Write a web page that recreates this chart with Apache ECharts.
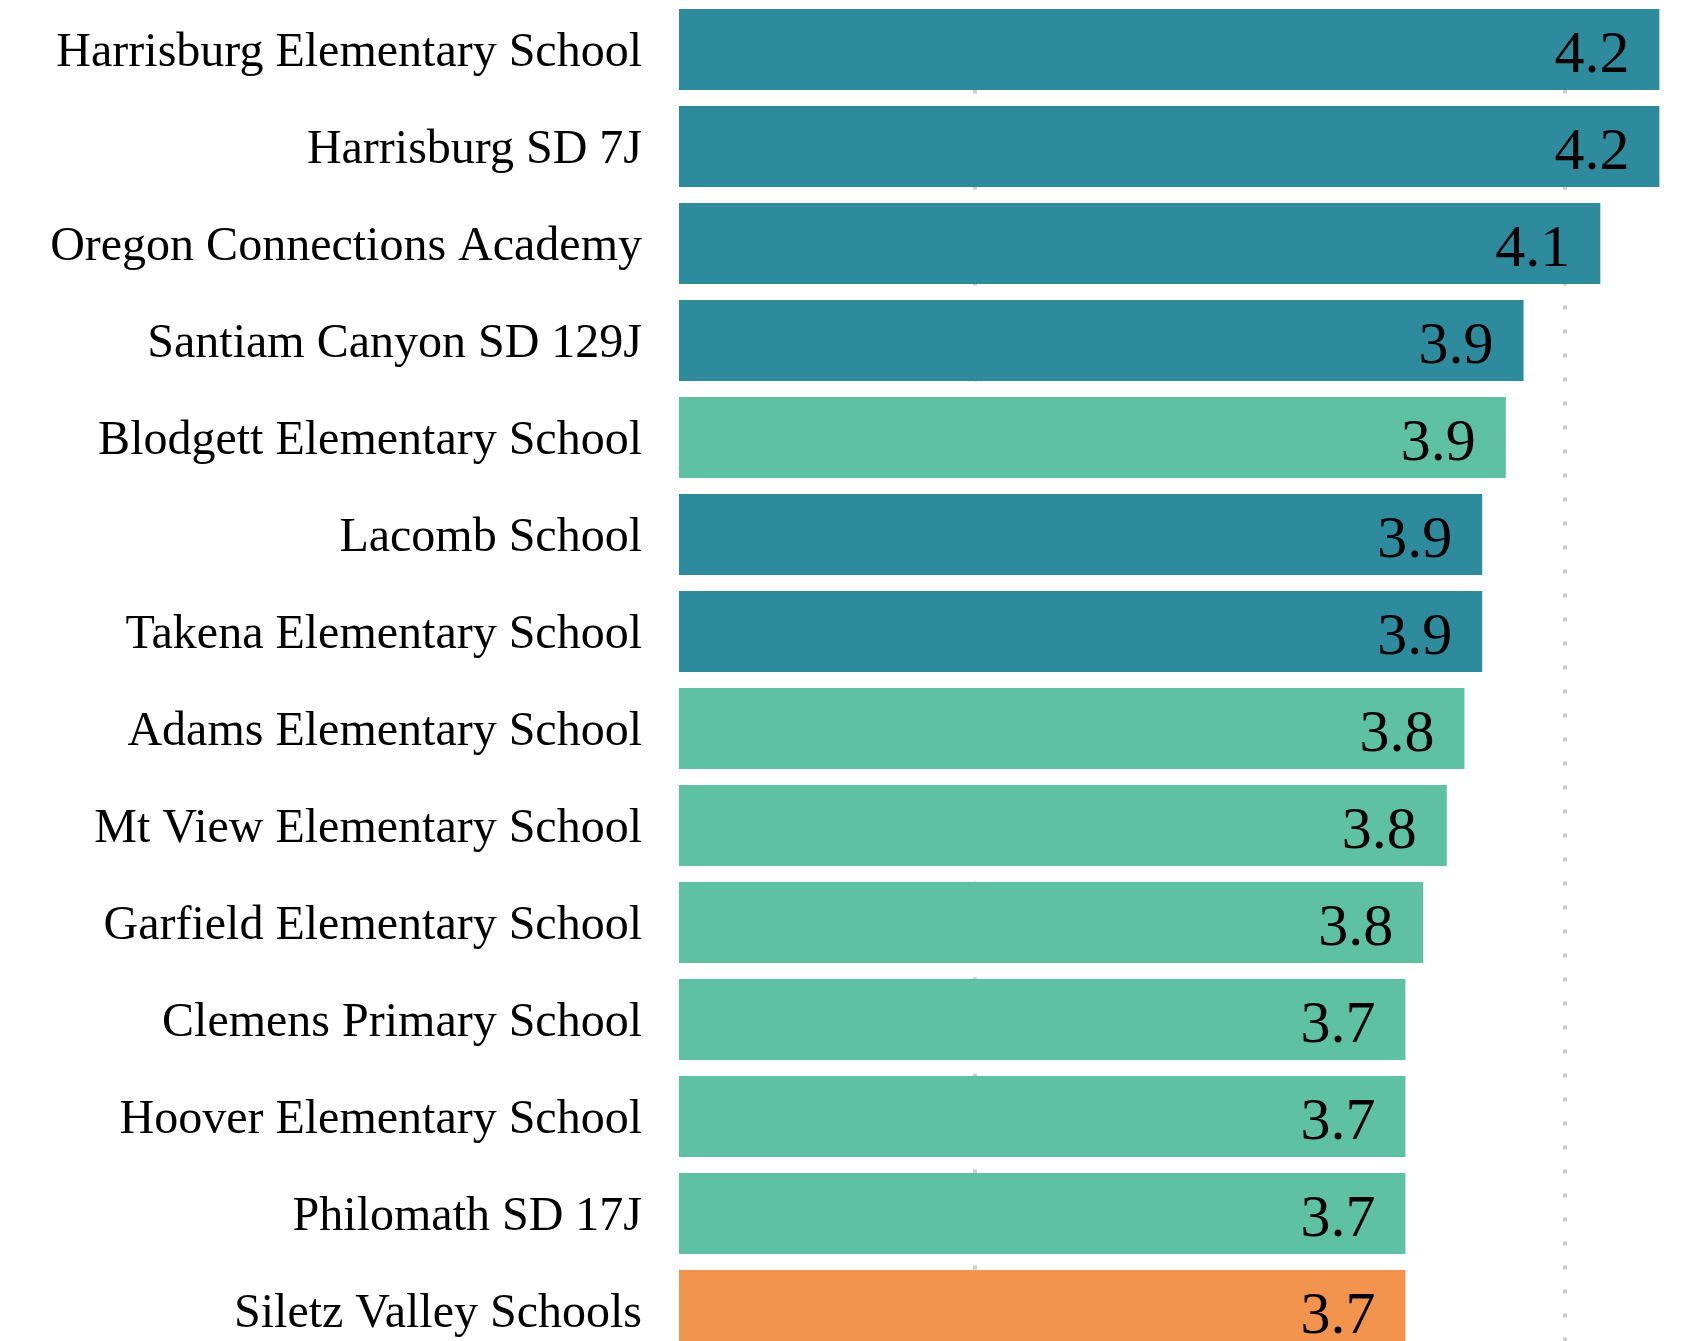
<!DOCTYPE html>
<html>
<head>
<meta charset="utf-8">
<script src="https://cdn.jsdelivr.net/npm/echarts@6/dist/echarts.min.js"></script>
<style>
    html, body { margin: 0; padding: 0; background: #fff; }
    #chart { width: 1686px; height: 1341px; }
</style>
</head>
<body>
<div id="chart"></div>
<script>
// School names, top to bottom
const schools = [
    'Harrisburg Elementary School',
    'Harrisburg SD 7J',
    'Oregon Connections Academy',
    'Santiam Canyon SD 129J',
    'Blodgett Elementary School',
    'Lacomb School',
    'Takena Elementary School',
    'Adams Elementary School',
    'Mt View Elementary School',
    'Garfield Elementary School',
    'Clemens Primary School',
    'Hoover Elementary School',
    'Philomath SD 17J',
    'Siletz Valley Schools'
];

// Scores
const scores = [4.16, 4.16, 4.06, 3.93, 3.9, 3.86, 3.86, 3.83, 3.8, 3.76, 3.73, 3.73, 3.73, 3.73];

// Colour group of each bar
const groups = ['a', 'a', 'a', 'a', 'b', 'a', 'a', 'b', 'b', 'b', 'b', 'b', 'b', 'c'];

const groupColors = { a: '#2e8b9e', b: '#5ec1a2', c: '#f2944e' };

// Where the dotted grid lines sit
const gridValues = [3, 4];

const chart = echarts.init(document.getElementById('chart'));

const option = {
    backgroundColor: '#fff',
    animation: false,
    grid: {
        left: 679,
        right: 3,
        top: 1,
        height: 1358,
        containLabel: false,
        outerBoundsMode: 'none'
    },
    xAxis: {
        type: 'value',
        min: 2.5,
        max: 4.2,
        axisLine: { show: false },
        axisTick: { show: false, customValues: gridValues },
        axisLabel: { show: false },
        splitLine: {
            show: true,
            lineStyle: {
                color: '#cccccc',
                width: 4,
                type: [4, 20],
                dashOffset: 7.5
            }
        }
    },
    yAxis: {
        type: 'category',
        inverse: true,
        data: schools,
        axisLine: { show: false },
        axisTick: { show: false },
        splitLine: { show: false },
        axisLabel: {
            margin: 37,
            fontSize: 48,
            fontFamily: 'Liberation Serif',
            color: '#000',
            // nudge the names a few px down
            verticalAlign: 'top',
            lineHeight: 8
        }
    },
    series: [
        {
            type: 'bar',
            barCategoryGap: '16.5%',
            data: scores.map((v, i) => ({
                value: v,
                itemStyle: { color: groupColors[groups[i]] }
            })),
            label: {
                show: true,
                position: 'insideRight',
                distance: 30,
                offset: [0, 7],
                fontSize: 60,
                fontFamily: 'Liberation Serif',
                color: '#000',
                formatter: (p) => p.value.toFixed(1)
            }
        }
    ]
};

chart.setOption(option);
</script>
</body>
</html>
